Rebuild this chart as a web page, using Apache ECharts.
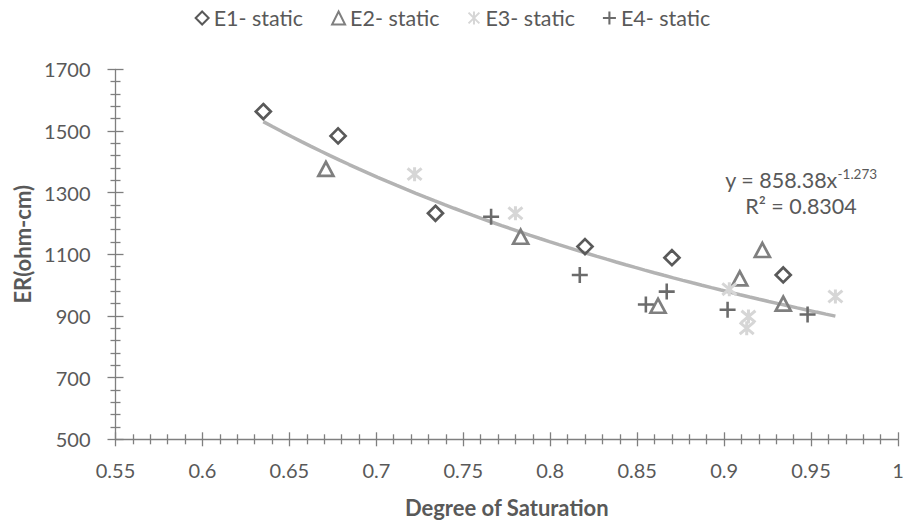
<!DOCTYPE html>
<html>
<head>
<meta charset="utf-8">
<script src="https://cdn.jsdelivr.net/npm/echarts@6/dist/echarts.min.js"></script>
<style>
html,body{margin:0;padding:0;background:#fff;}
#chart{width:905px;height:522px;}
</style>
</head>
<body>
<div id="chart"></div>
<script>
// ---- data ----
const seriesNames = ['E1- static', 'E2- static', 'E3- static', 'E4- static'];
const e1X = [0.635, 0.678, 0.734, 0.820, 0.870, 0.934];
const e1Y = [1563, 1484, 1233, 1125, 1089, 1033];
const e2X = [0.671, 0.783, 0.862, 0.909, 0.922, 0.934];
const e2Y = [1377, 1157, 933, 1022, 1114, 940];
const e3X = [0.722, 0.780, 0.903, 0.914, 0.913, 0.964];
const e3Y = [1360, 1233, 987, 898, 860, 963];
const e4X = [0.766, 0.817, 0.855, 0.867, 0.902, 0.948];
const e4Y = [1222, 1033, 937, 979, 920, 905];
// power trendline as printed on the chart: y = 858.38 x^-1.273, R² = 0.8304
const trendCoef = 858.38;
const trendExp = -1.273;
const trendR2 = '0.8304';
const xTicks = ['0.55','0.6','0.65','0.7','0.75','0.8','0.85','0.9','0.95','1'];
const yTicks = ['500','700','900','1100','1300','1500','1700'];

function pairs(xs, ys){ return xs.map((x,i)=>[x, ys[i]]); }
const allX = [].concat(e1X, e2X, e3X, e4X);
const xMinData = Math.min.apply(null, allX), xMaxData = Math.max.apply(null, allX);
const trendPts = [];
for (let i = 0; i <= 60; i++) {
  const x = xMinData + (xMaxData - xMinData) * i / 60;
  trendPts.push([x, trendCoef * Math.pow(x, trendExp)]);
}

const FONT = 'Lato, "Open Sans", sans-serif';
const TXT = '#595959';
const AX = '#7f7f7f';

const plusPath = 'path://M42,0H58V42H100V58H58V100H42V58H0V42H42Z';
const starPath = 'path://M0,0L100,100M100,0L0,100M50,-10L50,110';

const chart = echarts.init(document.getElementById('chart'), null, {renderer: 'svg'});

const xBase = {
  type: 'value', min: 0.55, max: 1, interval: 0.05,
  gridIndex: 0, position: 'bottom',
  splitLine: {show: false}
};
const yBase = {
  type: 'value', min: 500, max: 1700, interval: 200,
  gridIndex: 0, position: 'left',
  splitLine: {show: false}
};

function xFmt(v){
  const s = String(+(+v).toFixed(2));
  return xTicks.indexOf(s) >= 0 ? s : '';
}
function yFmt(v){
  const s = String(Math.round(v));
  return yTicks.indexOf(s) >= 0 ? s : '';
}

chart.setOption({
  animation: false,
  backgroundColor: '#fff',
  textStyle: {fontFamily: FONT},
  legend: {
    top: 2, left: 'center',
    itemWidth: 13, itemHeight: 13, itemGap: 28,
    textStyle: {fontFamily: FONT, fontSize: 21.5, color: TXT},
    data: seriesNames
  },
  grid: {left: 115.5, right: 7, top: 69.3, bottom: 82.7, outerBoundsMode: 'none', containLabel: false},
  xAxis: [
    Object.assign({}, xBase, {
      name: 'Degree of Saturation', nameLocation: 'middle', nameGap: 57,
      nameTextStyle: {fontFamily: FONT, fontSize: 22, fontWeight: 'bold', color: TXT},
      axisLine: {show: true, lineStyle: {color: AX, width: 1.3}},
      axisTick: {show: true, inside: false, length: 7, lineStyle: {color: AX, width: 1.3}},
      minorTick: {show: true, splitNumber: 5, length: 5, lineStyle: {color: AX, width: 1.3}},
      axisLabel: {show: true, margin: 21, fontFamily: FONT, fontSize: 20, color: TXT, formatter: xFmt}
    }),
    Object.assign({}, xBase, {
      axisLine: {show: false},
      axisTick: {show: true, inside: true, length: 7, lineStyle: {color: AX, width: 1.3}},
      minorTick: {show: true, splitNumber: 5, length: 5, lineStyle: {color: AX, width: 1.3}},
      axisLabel: {show: false}
    })
  ],
  yAxis: [
    Object.assign({}, yBase, {
      name: 'ER(ohm-cm)', nameLocation: 'middle', nameGap: 77, nameRotate: 90,
      nameTextStyle: {fontFamily: FONT, fontSize: 22, fontWeight: 'bold', color: TXT, padding: [0, 0, 0, 20]},
      axisLine: {show: true, lineStyle: {color: AX, width: 1.3}},
      axisTick: {show: true, inside: false, length: 8, lineStyle: {color: AX, width: 1.3}},
      minorTick: {show: true, splitNumber: 5, length: 5, lineStyle: {color: AX, width: 1.3}},
      axisLabel: {show: true, margin: 25, fontFamily: FONT, fontSize: 20, color: TXT, formatter: yFmt}
    }),
    Object.assign({}, yBase, {
      axisLine: {show: false},
      axisTick: {show: true, inside: true, length: 8, lineStyle: {color: AX, width: 1.3}},
      minorTick: {show: true, splitNumber: 5, length: 5, lineStyle: {color: AX, width: 1.3}},
      axisLabel: {show: false}
    })
  ],
  series: [
    {
      name: 'trend', type: 'line', data: trendPts, showSymbol: false, smooth: false,
      lineStyle: {color: '#b3b3b3', width: 3.5}, z: 1, silent: true
    },
    {
      name: seriesNames[0], type: 'scatter', data: pairs(e1X, e1Y),
      symbol: 'diamond', symbolSize: 15,
      itemStyle: {color: 'rgba(255,255,255,0)', borderColor: '#595959', borderWidth: 2.7, opacity: 1}, z: 3
    },
    {
      name: seriesNames[1], type: 'scatter', data: pairs(e2X, e2Y),
      symbol: 'triangle', symbolSize: [15, 14],
      itemStyle: {color: 'rgba(255,255,255,0)', borderColor: '#7f7f7f', borderWidth: 2.7, opacity: 1}, z: 3
    },
    {
      name: seriesNames[2], type: 'scatter', data: pairs(e3X, e3Y),
      symbol: starPath, symbolSize: 14,
      itemStyle: {color: 'rgba(255,255,255,0)', borderColor: '#d6d6d6', borderWidth: 3, opacity: 1}, z: 3
    },
    {
      name: seriesNames[3], type: 'scatter', data: pairs(e4X, e4Y),
      symbol: plusPath, symbolSize: 16,
      itemStyle: {color: '#6b6b6b', opacity: 1}, z: 3
    }
  ],
  graphic: [
    {
      type: 'text', x: 801, y: 193, z: 10,
      style: {
        text: '{a|y = 858.38x}{sup|-1.273}\n{a|R² = ' + trendR2 + '}',
        align: 'center', verticalAlign: 'middle',
        fontFamily: FONT, fontSize: 21.5, lineHeight: 26.5, fill: TXT,
        rich: {
          a: {fontFamily: FONT, fontSize: 21.5, lineHeight: 26.5, fill: TXT},
          sup: {fontFamily: FONT, fontSize: 13.5, lineHeight: 26.5, fill: TXT, verticalAlign: 'top'}
        }
      }
    }
  ]
});
</script>
</body>
</html>
